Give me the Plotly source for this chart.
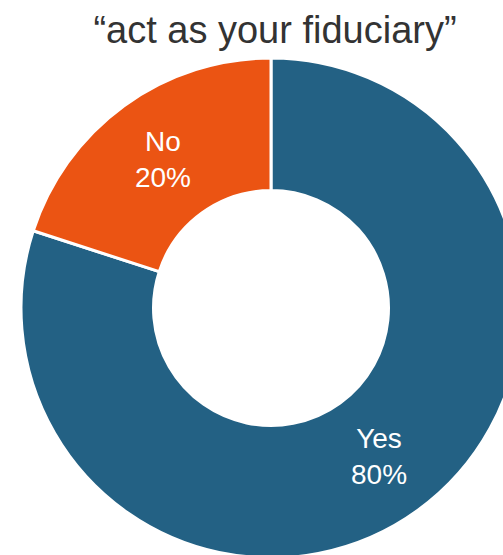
import plotly.graph_objects as go

labels = ["Yes", "No"]
values = [80, 20]
colors = ["#236184", "#EB5413"]
title_text = "\u201cact as your fiduciary\u201d"

W, H = 542, 600
cx, cy, R = 271, 308, 250

fig = go.Figure(go.Pie(
    labels=labels,
    values=values,
    hole=0.47,
    sort=False,
    direction="clockwise",
    rotation=0,
    marker=dict(colors=colors, line=dict(color="white", width=3)),
    textinfo="label+percent",
    texttemplate="%{label}<br>%{percent:.0%}",
    textposition="inside",
    insidetextorientation="horizontal",
    textfont=dict(family="Liberation Sans, Arial", size=28, color="white"),
    showlegend=False,
    hoverinfo="skip",
    domain=dict(x=[(cx - R) / W, (cx + R) / W], y=[(H - cy - R) / H, (H - cy + R) / H]),
))

fig.update_layout(
    width=W, height=H,
    margin=dict(l=0, r=0, t=0, b=0),
    paper_bgcolor="white",
    title=dict(text=title_text, x=275 / W, xanchor="center", y=1 - 30 / H, yanchor="middle",
               font=dict(family="Liberation Sans, Arial", size=38, color="#333333")),
)

fig.write_html("out.html", config={"displayModeBar": False},
               post_script="document.body.style.margin='0';document.body.style.overflow='hidden';")
